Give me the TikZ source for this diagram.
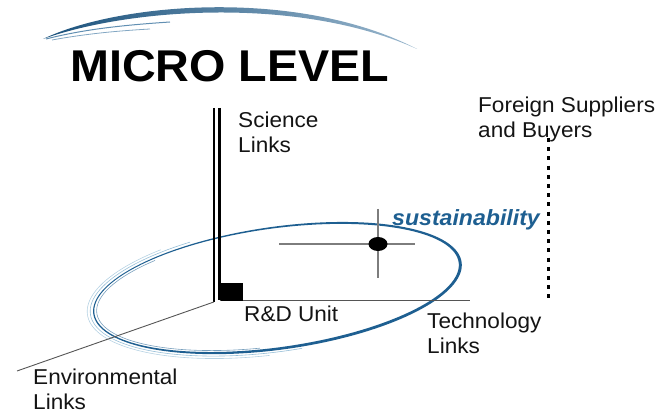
\documentclass[tikz,border=0pt]{standalone}
\usepackage{fontspec}
\setmainfont{Liberation Sans}[FakeStretch=1.05]
\usetikzlibrary{shapes.geometric}
\definecolor{swblue}{RGB}{30,95,145}
\definecolor{lightblue}{RGB}{150,190,215}
\definecolor{axisgray}{RGB}{85,85,85}
\definecolor{crossgray}{RGB}{125,125,125}
\begin{document}
\begin{tikzpicture}[x=1pt,y=-1pt,
  declare function={
    ex(\a,\b,\t)=277+0.990*\a*cos(\t)-0.139*\b*sin(\t);
    ey(\a,\b,\t)=288-0.139*\a*cos(\t)-0.990*\b*sin(\t);
    dw(\t)=0.55+0.5*(1+cos(\t+30));
  },
  lbl/.style={anchor=north west, inner sep=0pt, align=left, text=black!92,
    font=\fontsize{21.5}{25}\selectfont},
  axisline/.style={line width=2.4pt, black},
  thinaxis/.style={line width=0.9pt, axisgray},
  crossline/.style={line width=1.2pt, crossgray},
  strand/.style={line width=0.6pt, lightblue}
]
\useasboundingbox (0,0) rectangle (665,414);

% --- swoosh above the title
\shade[left color=swblue!85!black, right color=swblue!45]
  (43,39) .. controls (120,2) and (300,-12) .. (417,49)
          .. controls (300,-4) and (130,8) .. (43,39) -- cycle;
\draw[swblue!70, line width=1pt] (46,39) .. controls (85,29) and (125,25) .. (170,22);
\draw[swblue!55, line width=0.8pt] (52,40) .. controls (85,34) and (115,31) .. (150,29);

% --- sustainability ellipse (band of varying width)
\fill[swblue]
  plot[domain=0:360, samples=150, variable=\t]
    ({ex(185+dw(\t),60.4+dw(\t),\t)},{ey(185+dw(\t),60.4+dw(\t),\t)})
  -- plot[domain=360:0, samples=150, variable=\t]
    ({ex(185-dw(\t),60.4-dw(\t),\t)},{ey(185-dw(\t),60.4-dw(\t),\t)})
  -- cycle;
\draw[strand] plot[domain=115:275, samples=60, variable=\t]
  ({ex(188.5,63.5,\t)},{ey(188.5,63.5,\t)});
\draw[strand, lightblue!70] plot[domain=125:265, samples=60, variable=\t]
  ({ex(191.5,66,\t)},{ey(191.5,66,\t)});
\draw[strand, swblue!60] plot[domain=130:262, samples=60, variable=\t]
  ({ex(182,57.8,\t)},{ey(182,57.8,\t)});

% --- coordinates of the axes
\coordinate (sciA) at (213.8,108);
\coordinate (sciAb) at (213.8,302);
\coordinate (sciB) at (219.6,108);
\coordinate (sciBb) at (219.6,300.5);
\coordinate (techEnd) at (470,300.5);
\coordinate (envEnd) at (17,371);
\coordinate (dotTop) at (548,138);
\coordinate (dotBot) at (548,300);

% --- axes
\draw[axisline] (sciA) -- (sciAb);
\draw[axisline] (sciB) -- (sciBb);
\draw[thinaxis] (sciBb) -- (techEnd);
\draw[thinaxis] (sciAb) -- (envEnd);
\node[fill=black, minimum width=22pt, minimum height=17.5pt, inner sep=0pt,
      anchor=south west] (rdbox) at (220.6,300.8) {};

% --- dotted line for foreign links
\draw[line width=3pt, black, dash pattern=on 4pt off 5.2pt] (dotTop) -- (dotBot);

% --- cross with dot
\coordinate (crL) at (279,244);
\coordinate (crR) at (415,244);
\coordinate (crT) at (378,209);
\coordinate (crB) at (378,278);
\draw[crossline] (crL) -- (crR);
\draw[crossline] (crT) -- (crB);
\node[ellipse, fill=black, minimum width=19pt, minimum height=14pt, inner sep=0pt]
  (dot) at (378,244) {};

% --- texts
\node[anchor=base west, inner sep=0pt, font=\fontsize{44.5}{50}\selectfont\bfseries]
  (title) at (70,82) {MICRO LEVEL};
\node[anchor=base west, inner sep=0pt, text=swblue,
      font=\fontsize{22}{26}\selectfont\bfseries\itshape]
  (sust) at (392,226) {sustainability};
\node[lbl] (science) at (238,109.5) {\strut Science\\Links};
\node[lbl] (foreign) at (478,94.5) {\strut Foreign Suppliers\\and Buyers};
\node[anchor=base west, inner sep=0pt, text=black!92,
      font=\fontsize{21.5}{25}\selectfont] (rd) at (244,322) {R\&D Unit};
\node[lbl] (tech) at (427,310.5) {\strut Technology\\Links};
\node[lbl] (env) at (33,367) {\strut Environmental\\Links};
\end{tikzpicture}
\end{document}
